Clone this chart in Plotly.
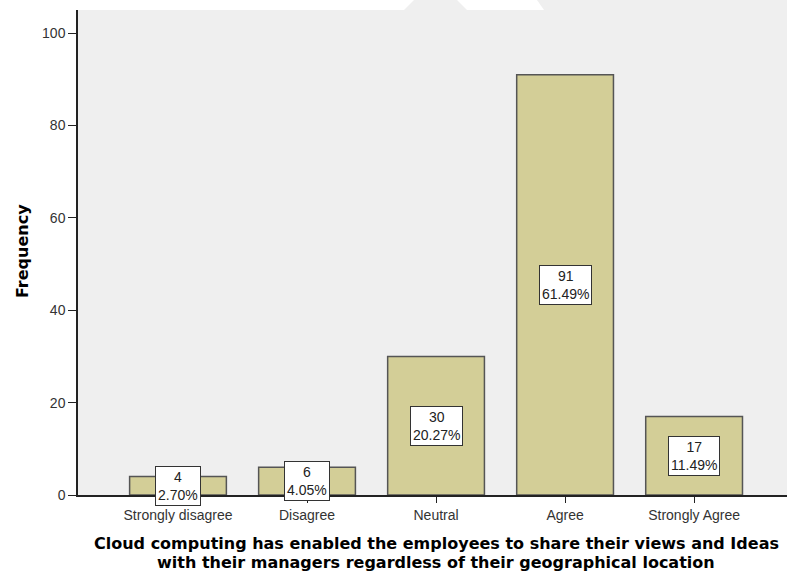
import plotly.graph_objects as go

categories = ["Strongly disagree", "Disagree", "Neutral", "Agree", "Strongly Agree"]
frequency = [4, 6, 30, 91, 17]
percent = ["2.70%", "4.05%", "20.27%", "61.49%", "11.49%"]

x_title = ["Cloud computing has enabled the employees to share their views and Ideas",
           "with their managers regardless of their geographical location"]
y_title = "Frequency"

BAR = "#D3CE97"
EDGE = "#555555"
GRID_BG = "#EFEFEF"
TITLE_FONT = "DejaVu Sans, Verdana, sans-serif"

fig = go.Figure(go.Bar(
    x=categories, y=frequency, width=0.75, cliponaxis=False,
    marker=dict(color=BAR, line=dict(color=EDGE, width=1.5)),
))

# SPSS-style boxed labels in the middle of each bar
for cat, f, p in zip(categories, frequency, percent):
    fig.add_annotation(
        x=cat, y=f / 2, text=f"{f}<br>{p}", showarrow=False,
        font=dict(size=14, color="#222"), bgcolor="white",
        bordercolor="#333", borderwidth=1, borderpad=2,
    )

# axis titles, placed by hand to get the tight SPSS line spacing
for line, ypos in zip(x_title, [-0.101, -0.139]):
    fig.add_annotation(x=0.505, y=ypos, xref="paper", yref="paper", showarrow=False,
                       xanchor="center", yanchor="middle", text=f"<b>{line}</b>",
                       font=dict(family=TITLE_FONT, size=16, color="#000"))
fig.add_annotation(x=-0.079, y=0.503, xref="paper", yref="paper", showarrow=False,
                   xanchor="center", yanchor="middle", textangle=-90,
                   text=f"<b>{y_title}</b>",
                   font=dict(family=TITLE_FONT, size=16, color="#000"))

# screenshot artifact strip above the plot
fig.add_shape(type="path", xref="paper", yref="paper", layer="below",
              path="M 0.4598 1 L 0.4739 1.0206 L 0.5346 1.0206 L 0.5487 1 Z",
              fillcolor=GRID_BG, line=dict(width=0))
fig.add_shape(type="path", xref="paper", yref="paper", layer="below",
              path="M 0.6474 1.0206 L 1 1.0206 L 1 1 L 0.6573 1 Z",
              fillcolor=GRID_BG, line=dict(width=0))

fig.update_layout(
    width=787, height=575,
    margin=dict(l=78, r=0, t=10, b=80),
    paper_bgcolor="white", plot_bgcolor=GRID_BG,
    font=dict(family="Liberation Sans, Arial, sans-serif", size=14, color="#333"),
    showlegend=False,
)
fig.update_xaxes(
    range=[-0.775, 4.72], showgrid=False, zeroline=False,
    showline=True, linecolor="#222", linewidth=1.5,
    ticks="outside", ticklen=6, tickcolor="#222",
)
fig.update_yaxes(
    range=[0, 105], showgrid=False, zeroline=False,
    showline=True, linecolor="#222", linewidth=1.5,
    ticks="outside", ticklen=8, tickcolor="#222",
    tickvals=[0, 20, 40, 60, 80, 100],
)

fig.write_html("out.html", config={"displayModeBar": False},
               post_script="document.body.style.margin='0';")
